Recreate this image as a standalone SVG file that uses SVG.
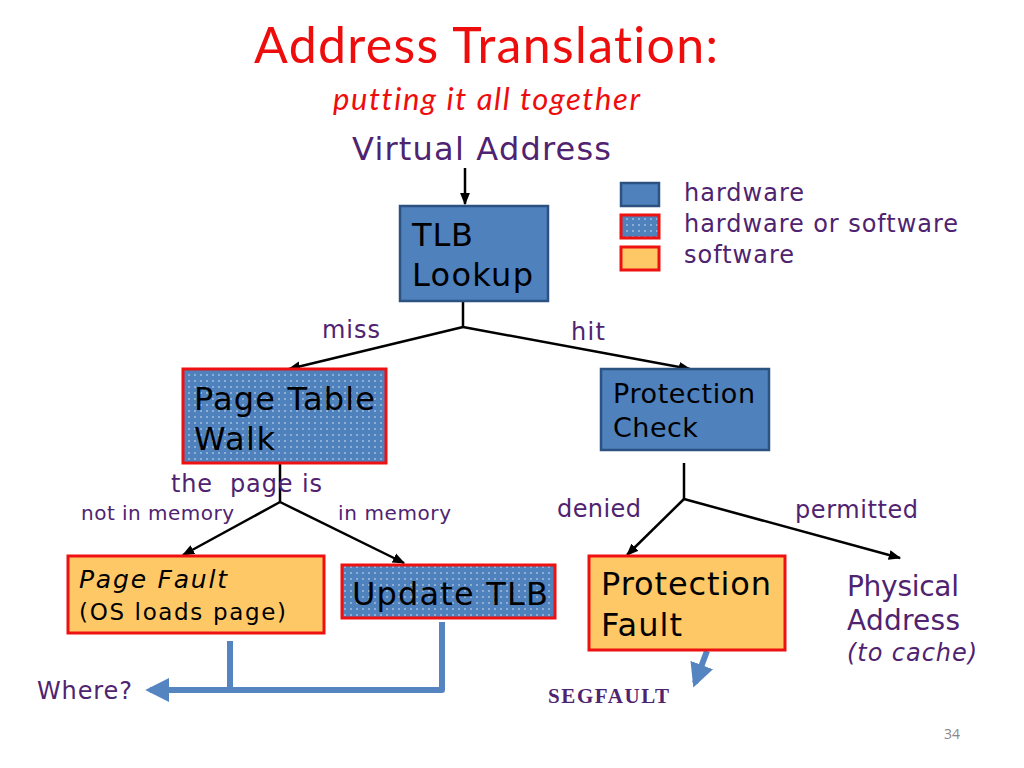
<svg xmlns="http://www.w3.org/2000/svg" width="1024" height="768" viewBox="0 0 1024 768">
<style>
.v{font-family:"DejaVu Sans",Verdana,sans-serif}
.t{font-family:Lato,"Open Sans",sans-serif;font-variant-ligatures:none;fill:#ee0d0d}
.p{fill:#4f2370}
.k{fill:#000}
.hw{fill:#4f81bd;stroke:#2c5282;stroke-width:2.5}
.hs{fill:url(#dots);stroke:#ee1111;stroke-width:3}
.sw{fill:#fec866;stroke:#ee1111;stroke-width:3}
.c{fill:none;stroke:#000;stroke-width:2.5}
.b{fill:none;stroke:#5585c0;stroke-width:6}
</style>
<defs>
<pattern id="dots" width="6" height="6" patternUnits="userSpaceOnUse">
<rect width="6" height="6" fill="#4f81bd"/>
<circle cx="3" cy="3" r="0.8" fill="#dce8f7"/>
</pattern>
<marker id="ah" viewBox="0 0 10 10" refX="9" refY="5" markerWidth="5" markerHeight="5" orient="auto" markerUnits="strokeWidth">
<path d="M0,1 L10,5 L0,9 z" fill="#000"/>
</marker>
<marker id="bh" viewBox="0 0 10 10" refX="8" refY="5" markerWidth="4" markerHeight="4" orient="auto" markerUnits="strokeWidth">
<path d="M0,0 L10,5 L0,10 z" fill="#5585c0"/>
</marker>
</defs>
<rect width="1024" height="768" fill="#fff"/>
<g id="title">
<text x="254" y="63" textLength="464" class="t" font-size="50">Address Translation:</text>
<text x="333" y="110" textLength="307" class="t" font-size="31" font-style="italic">putting it all together</text>
</g>
<g id="virtual-address"><text x="352" y="160" textLength="259" class="v p" font-size="32">Virtual Address</text></g>
<g id="legend">
<rect x="621" y="183" width="38" height="23" class="hw"/>
<rect x="621" y="215" width="38" height="23" class="hs"/>
<rect x="621" y="247" width="38" height="23" class="sw"/>
<text x="684" y="201" textLength="120" class="v p" font-size="24">hardware</text>
<text x="684" y="232" textLength="274" class="v p" font-size="24">hardware or software</text>
<text x="684" y="263" textLength="110" class="v p" font-size="24">software</text>
</g>
<g id="connectors">
<line x1="465" y1="168" x2="465" y2="204" class="c" marker-end="url(#ah)"/>
<polyline points="463,301 463,327" class="c"/>
<line x1="463" y1="327" x2="289" y2="369" class="c" marker-end="url(#ah)"/>
<line x1="463" y1="327" x2="690" y2="369" class="c" marker-end="url(#ah)"/>
<line x1="280" y1="463" x2="280" y2="502" class="c"/>
<line x1="280" y1="502" x2="183" y2="555" class="c" marker-end="url(#ah)"/>
<line x1="280" y1="502" x2="404" y2="563" class="c" marker-end="url(#ah)"/>
<line x1="684" y1="463" x2="684" y2="499" class="c"/>
<line x1="684" y1="499" x2="627" y2="555" class="c" marker-end="url(#ah)"/>
<line x1="684" y1="499" x2="900" y2="558" class="c" marker-end="url(#ah)"/>
<line x1="230" y1="641" x2="230" y2="690" class="b"/>
<polyline points="442,622 442,690 150,690" class="b" stroke-linejoin="round" marker-end="url(#bh)"/>
<line x1="707" y1="651" x2="695" y2="683" class="b" marker-end="url(#bh)"/>
</g>
<g id="labels">
<text x="322" y="338" textLength="58" class="v p" font-size="24">miss</text>
<text x="571" y="340" textLength="34" class="v p" font-size="24">hit</text>
<text x="171" y="492" textLength="151" class="v p" font-size="24" style="white-space:pre">the  page is</text>
<text x="81" y="520" textLength="153" class="v p" font-size="20">not in memory</text>
<text x="338" y="520" textLength="113" class="v p" font-size="20">in memory</text>
<text x="557" y="517" textLength="84" class="v p" font-size="24">denied</text>
<text x="795" y="518" textLength="123" class="v p" font-size="24">permitted</text>
<text x="37" y="699" textLength="95" class="v p" font-size="24">Where?</text>
<text x="548" y="703" textLength="121" font-family="'Liberation Serif','Courier New',serif" font-weight="bold" font-size="21" class="p">SEGFAULT</text>
<text x="944" y="739" font-family="'Open Sans',sans-serif" font-size="14" fill="#888">34</text>
</g>
<g id="tlb-lookup">
<rect x="400" y="206" width="148" height="95" class="hw"/>
<text x="412" y="246" textLength="61" class="v k" font-size="32">TLB</text>
<text x="412" y="286" textLength="121" class="v k" font-size="32">Lookup</text>
</g>
<g id="page-table-walk">
<rect x="183" y="369" width="203" height="94" class="hs"/>
<text x="194" y="410" textLength="181" class="v k" font-size="32">Page Table</text>
<text x="194" y="450" textLength="81" class="v k" font-size="32">Walk</text>
</g>
<g id="protection-check">
<rect x="601" y="369" width="168" height="81" class="hw"/>
<text x="613" y="403" textLength="142" class="v k" font-size="27">Protection</text>
<text x="613" y="437" textLength="85" class="v k" font-size="27">Check</text>
</g>
<g id="page-fault">
<rect x="68" y="556" width="256" height="77" class="sw"/>
<text x="79" y="588" textLength="148" class="v k" font-size="25" font-style="italic">Page Fault</text>
<text x="79" y="620" textLength="207" class="v k" font-size="23">(OS loads page)</text>
</g>
<g id="update-tlb">
<rect x="342" y="565" width="213" height="53" class="hs"/>
<text x="352" y="605" textLength="196" class="v k" font-size="32">Update TLB</text>
</g>
<g id="protection-fault">
<rect x="589" y="556" width="196" height="94" class="sw"/>
<text x="601" y="595" textLength="170" class="v k" font-size="32">Protection</text>
<text x="601" y="636" textLength="81" class="v k" font-size="32">Fault</text>
</g>
<g id="physical-address">
<text x="847" y="596" textLength="112" class="v p" font-size="28">Physical</text>
<text x="847" y="630" textLength="113" class="v p" font-size="28">Address</text>
<text x="847" y="661" textLength="130" class="v p" font-size="24" font-style="italic">(to cache)</text>
</g>
</svg>
